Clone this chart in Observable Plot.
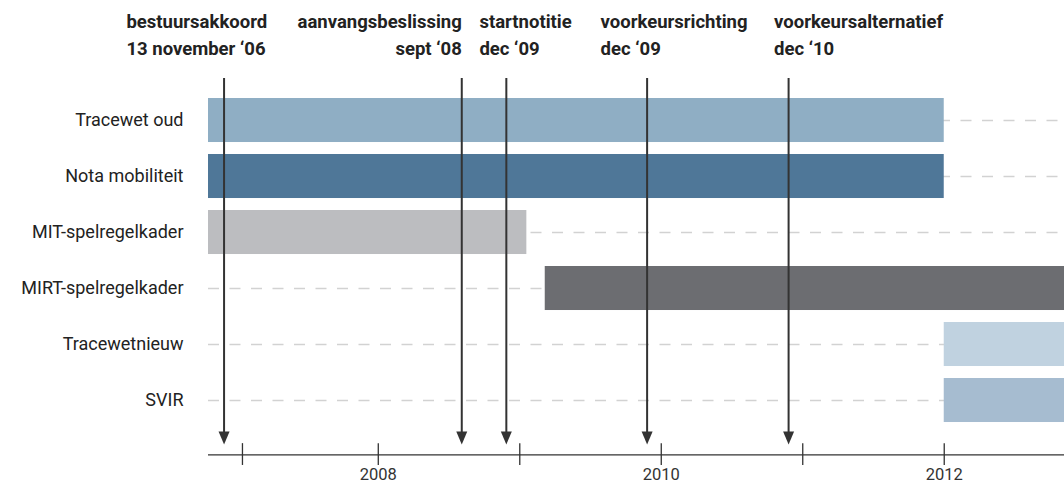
<!DOCTYPE html>
<html>
<head>
<meta charset="utf-8">
<script src="https://cdn.jsdelivr.net/npm/d3@7"></script>
<script src="https://cdn.jsdelivr.net/npm/@observablehq/plot@0.6"></script>
<style>
  html, body { margin: 0; padding: 0; background: #fff; }
  #chart { width: 1064px; height: 485px; overflow: hidden; }
</style>
</head>
<body>
<div id="chart"></div>
<script>
// ---- data ----
const rows = ["Tracewet oud", "Nota mobiliteit", "MIT-spelregelkader", "MIRT-spelregelkader", "Tracewetnieuw", "SVIR"];
const rowStart = [2006.8, 2006.8, 2006.8, 2009.18, 2012.0, 2012.0];
const rowEnd = [2012.0, 2012.0, 2009.05, 2013.0, 2013.0, 2013.0];
const rowColors = ["#8faec4", "#4f7798", "#bcbdc0", "#6c6d71", "#c0d2e0", "#a6bcd0"];

const milestones = ["bestuursakkoord", "aanvangsbeslissing", "startnotitie", "voorkeursrichting", "voorkeursalternatief"];
const milestoneDates = ["13 november ‘06", "sept ‘08", "dec ‘09", "dec ‘09", "dec ‘10"];
const milestoneAt = [2006.91, 2008.59, 2008.905, 2009.9, 2010.9];
const labelAt = [2006.22, 2008.59, 2008.715, 2009.571, 2010.797];
const labelAlign = ["start", "end", "start", "start", "start"];

const tickYears = [2007.04, 2008, 2009, 2010, 2011, 2012];
const tickLabels = ["", "2008", "", "2010", "", "2012"];

// ---- tables ----
const bars = rows.map((name, i) => ({name, i, start: rowStart[i], end: rowEnd[i], color: rowColors[i]}));
const events = milestones.map((m, i) => ({label: m + "\n" + milestoneDates[i], at: milestoneAt[i], lx: labelAt[i], align: labelAlign[i]}));
const rowCenters = rows.map((_, i) => i + 0.5);

const font = "Roboto, 'Noto Sans', sans-serif";
const ink = "#2b2b2b";

// arrowhead shape for Plot.vector (base at origin, tip at -l before rotation)
const triangle = {
  draw(context, l, r) {
    context.moveTo(-r, 0);
    context.lineTo(r, 0);
    context.lineTo(0, -l);
    context.closePath();
  }
};

const chart = Plot.plot({
  width: 1064,
  height: 485,
  marginLeft: 208,
  marginRight: 0,
  marginTop: 0,
  marginBottom: 30,
  style: {fontFamily: font, background: "#fff", color: ink, overflow: "hidden"},
  x: {domain: [2006.8, 2012.85]},
  y: {domain: [-1.643, 6.482], reverse: true},
  marks: [
    Plot.ruleY(rowCenters, {y: d => d, stroke: "#d2d2d2", strokeWidth: 1.5, strokeDasharray: "11,10.5"}),
    Plot.rectX(bars, {x1: "start", x2: "end", y1: d => d.i + 0.107, y2: d => d.i + 0.893, fill: "color", clip: true}),
    Plot.axisY({ticks: rowCenters, tickFormat: d => rows[Math.floor(d)], tickSize: 0, tickPadding: 25, fontSize: 18, fill: "#222", label: null}),
    Plot.ruleY([6.47], {stroke: "#333", strokeWidth: 1.3}),
    Plot.ruleX(tickYears, {x: d => d, y1: 6.27, y2: 6.66, stroke: "#333", strokeWidth: 1.3}),
    Plot.axisX({ticks: tickYears, tickFormat: d => tickLabels[tickYears.indexOf(d)], tickSize: 0, tickPadding: 13, fontSize: 16.5, fill: "#333", label: null}),
    Plot.ruleX(events, {x: "at", y1: -0.25, y2: 6.1, stroke: "#333", strokeWidth: 2}),
    Plot.vector(events, {x: "at", y: 6.286, anchor: "end", rotate: 180, length: 13, r: 5.5, shape: triangle, fill: "#333", stroke: "none"}),
    Plot.text(events.filter(d => d.align === "start"), {x: "lx", y: -1.06, text: "label", textAnchor: "start", lineAnchor: "middle", lineHeight: 1.42, fontSize: 18.5, fontWeight: "bold", fill: "#222"}),
    Plot.text(events.filter(d => d.align === "end"), {x: "lx", y: -1.06, text: "label", textAnchor: "end", lineAnchor: "middle", lineHeight: 1.42, fontSize: 18.5, fontWeight: "bold", fill: "#222"})
  ]
});
document.getElementById("chart").appendChild(chart);
</script>
</body>
</html>
